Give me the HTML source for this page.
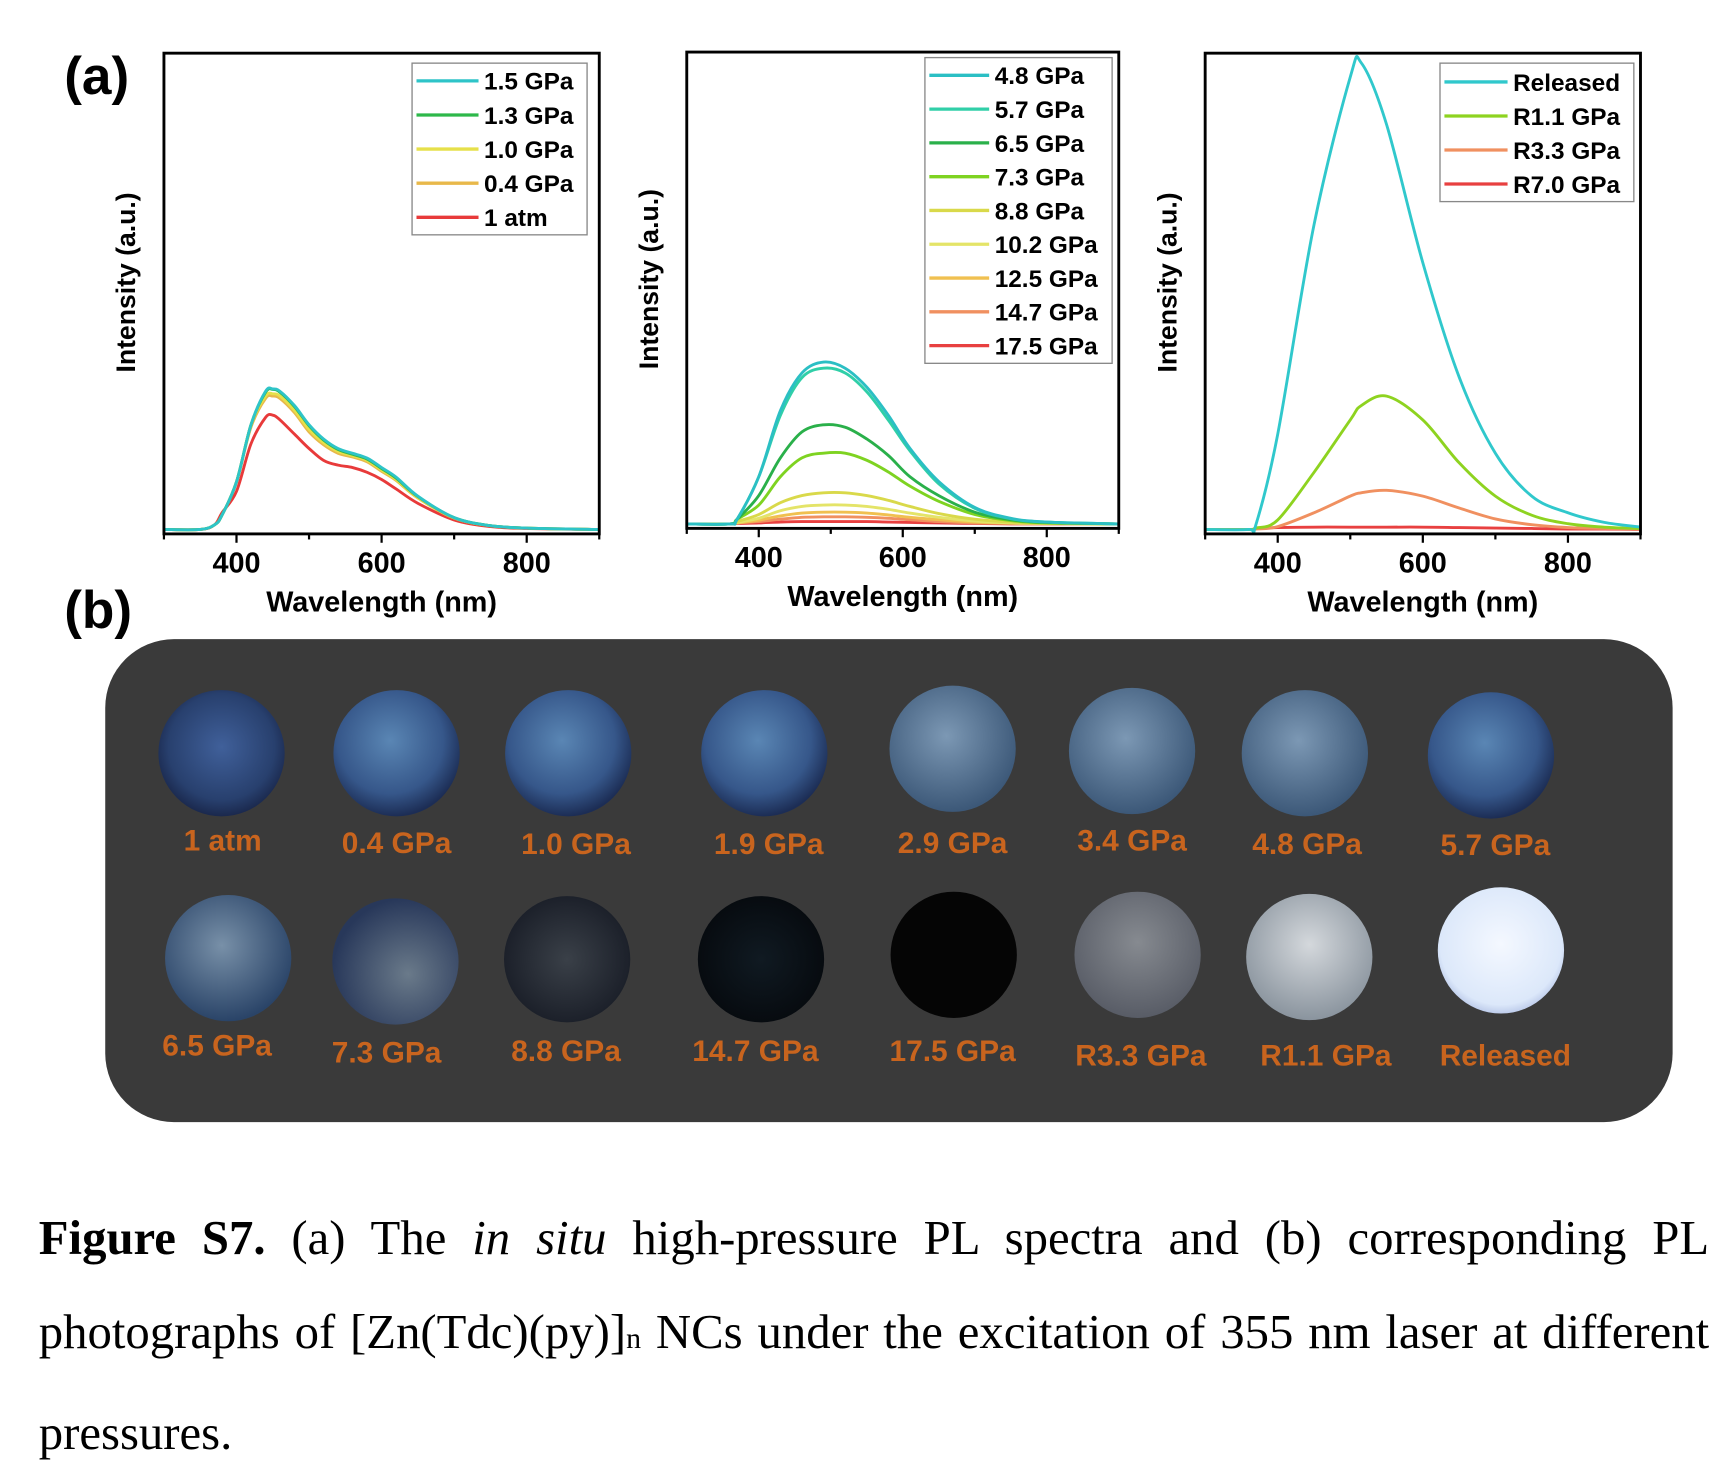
<!DOCTYPE html>
<html><head><meta charset="utf-8"><style>
html,body{margin:0;padding:0;background:#fff;width:1728px;height:1483px;overflow:hidden}
#root{position:absolute;left:0;top:0;width:1560px;height:1339px;transform:scale(1.10769);transform-origin:0 0}
#cap{position:absolute;left:35px;width:1508px;top:1075px;font-family:"Liberation Serif",serif;font-size:44px;line-height:85px;color:#000}
#cap .j{text-align:justify;text-align-last:justify;white-space:nowrap}
</style></head><body>
<div id="root">
<svg id="svg" width="1560" height="1090" viewBox="0 0 1560 1090" style="position:absolute;left:0;top:0" font-family="Liberation Sans, sans-serif">
<defs>
<radialGradient id="gBlue" cx="45%" cy="40%" r="60%"><stop offset="0" stop-color="#5a86b4"/><stop offset="0.7" stop-color="#36578a"/><stop offset="1" stop-color="#1c2d55"/></radialGradient>
<radialGradient id="gBlueD" cx="50%" cy="45%" r="60%"><stop offset="0" stop-color="#40609a"/><stop offset="0.7" stop-color="#28406e"/><stop offset="1" stop-color="#151f40"/></radialGradient>
<radialGradient id="gGray" cx="45%" cy="40%" r="60%"><stop offset="0" stop-color="#7c98b4"/><stop offset="1" stop-color="#3c5878"/></radialGradient>
<radialGradient id="g65" cx="45%" cy="40%" r="60%"><stop offset="0" stop-color="#7890a8"/><stop offset="1" stop-color="#2a4468"/></radialGradient>
<radialGradient id="g73" cx="60%" cy="60%" r="60%"><stop offset="0" stop-color="#6a7a8a"/><stop offset="1" stop-color="#28385a"/></radialGradient>
<radialGradient id="g88" cx="50%" cy="50%" r="60%"><stop offset="0" stop-color="#3a4048"/><stop offset="1" stop-color="#161a24"/></radialGradient>
<radialGradient id="g147" cx="50%" cy="50%" r="60%"><stop offset="0" stop-color="#101a22"/><stop offset="1" stop-color="#05080c"/></radialGradient>
<radialGradient id="gR33" cx="50%" cy="40%" r="60%"><stop offset="0" stop-color="#868a90"/><stop offset="1" stop-color="#585c66"/></radialGradient>
<radialGradient id="gR11" cx="50%" cy="40%" r="60%"><stop offset="0" stop-color="#d4d8dc"/><stop offset="1" stop-color="#8a949e"/></radialGradient>
<radialGradient id="gRel" cx="50%" cy="45%" r="60%"><stop offset="0" stop-color="#f4f8ff"/><stop offset="0.8" stop-color="#dce8fa"/><stop offset="1" stop-color="#a8b8e0"/></radialGradient>
</defs>
<text x="58" y="85" font-size="48" font-weight="bold">(a)</text>
<text x="58" y="567" font-size="48" font-weight="bold">(b)</text>
<rect x="95" y="577" width="1415" height="436" rx="62" fill="#3a3a3a"/>
<g id="charts"></g>
<g id="photos"></g>
</svg>
<div id="cap">
<div class="j"><b>Figure S7.</b> (a) The <i>in situ</i> high-pressure PL spectra and (b) corresponding PL</div>
<div class="j">photographs of [Zn(Tdc)(py)]<span style="font-size:27px">n</span> NCs under the excitation of 355 nm laser at different</div>
<div>pressures.</div>
</div>
</div>
<script>
// ---- Panel 1 data ----
const wl1 = [300,350,370,380,400,420,440,450,460,480,500,520,540,560,580,600,620,650,700,750,800,900];
const names1 = ["1.5 GPa","1.3 GPa","1.0 GPa","0.4 GPa","1 atm"];
const colors1 = ["#2ec4c8","#2db84a","#e6e04a","#e8b84a","#e83a3a"];
const s1_15 = [0,0,0.01,0.03,0.10,0.22,0.29,0.295,0.29,0.26,0.22,0.19,0.17,0.16,0.15,0.13,0.11,0.07,0.025,0.008,0.003,0];
const s1_13 = [0,0,0.01,0.03,0.10,0.22,0.288,0.294,0.288,0.258,0.218,0.188,0.168,0.158,0.148,0.128,0.108,0.069,0.025,0.008,0.003,0];
const s1_10 = [0,0,0.01,0.03,0.10,0.22,0.28,0.285,0.28,0.25,0.21,0.182,0.164,0.155,0.145,0.125,0.105,0.067,0.024,0.008,0.003,0];
const s1_04 = [0,0,0.01,0.03,0.10,0.215,0.275,0.28,0.275,0.245,0.205,0.178,0.16,0.152,0.142,0.122,0.103,0.066,0.024,0.008,0.003,0];
const s1_0 = [0,0,0.01,0.035,0.08,0.18,0.235,0.24,0.23,0.20,0.17,0.145,0.135,0.13,0.12,0.105,0.085,0.055,0.02,0.006,0.002,0];
// ---- Panel 2 data ----
const wl2 = [300,360,370,400,430,460,490,520,550,580,610,650,700,750,800,900];
const names2 = ["4.8 GPa","5.7 GPa","6.5 GPa","7.3 GPa","8.8 GPa","10.2 GPa","12.5 GPa","14.7 GPa","17.5 GPa"];
const colors2 = ["#2bbfc4","#30cfa8","#2ab04a","#7ed321","#d9d94a","#e4e468","#f0c050","#f09060","#e84040"];
const s2_48 = [0,0,0.01,0.10,0.24,0.32,0.343,0.33,0.29,0.23,0.16,0.09,0.035,0.012,0.004,0];
const s2_57 = [0,0,0.01,0.10,0.23,0.31,0.33,0.32,0.28,0.22,0.155,0.085,0.033,0.011,0.004,0];
const s2_65 = [0,0,0.01,0.06,0.14,0.195,0.21,0.205,0.18,0.145,0.10,0.06,0.025,0.009,0.003,0];
const s2_73 = [0,0,0.01,0.04,0.10,0.14,0.15,0.15,0.135,0.11,0.08,0.048,0.02,0.007,0.002,0];
const s2_88 = [0,0,0.005,0.02,0.045,0.06,0.066,0.066,0.06,0.05,0.037,0.022,0.01,0.004,0.001,0];
const s2_102 = [0,0,0.003,0.012,0.028,0.037,0.04,0.04,0.037,0.031,0.023,0.014,0.006,0.002,0.001,0];
const s2_125 = [0,0,0.002,0.008,0.017,0.023,0.025,0.025,0.023,0.019,0.014,0.009,0.004,0.002,0.001,0];
const s2_147 = [0,0,0.002,0.005,0.01,0.014,0.015,0.015,0.014,0.012,0.009,0.005,0.002,0.001,0,0];
const s2_175 = [0,0,0.001,0.002,0.004,0.005,0.005,0.005,0.005,0.004,0.003,0.002,0.001,0,0,0];
// ---- Panel 3 data ----
const wl3 = [300,360,370,400,450,500,515,550,600,650,700,750,800,850,900];
const names3 = ["Released","R1.1 GPa","R3.3 GPa","R7.0 GPa"];
const colors3 = ["#30c8cc","#8ed320","#f09060","#e84040"];
const s3_rel = [0,0,0.01,0.20,0.64,0.95,0.98,0.85,0.56,0.32,0.16,0.07,0.035,0.015,0.005];
const s3_r11 = [0,0,0.003,0.02,0.12,0.23,0.26,0.28,0.23,0.14,0.07,0.03,0.012,0.005,0.002];
const s3_r33 = [0,0,0.001,0.006,0.035,0.07,0.077,0.082,0.07,0.045,0.022,0.01,0.004,0.002,0.001];
const s3_r70 = [0,0,0.002,0.004,0.005,0.005,0.005,0.005,0.005,0.004,0.003,0.002,0.001,0.001,0];
const xTicks = [400,600,800];

const NS="http://www.w3.org/2000/svg";
function mk(tag,attrs,parent){const e=document.createElementNS(NS,tag);for(const k in attrs)e.setAttribute(k,attrs[k]);parent.appendChild(e);return e;}
const charts=document.getElementById('charts');

function smoothPath(pts){
  let d='M'+pts[0][0].toFixed(1)+','+pts[0][1].toFixed(1);
  for(let i=0;i<pts.length-1;i++){
    const p0=pts[Math.max(0,i-1)],p1=pts[i],p2=pts[i+1],p3=pts[Math.min(pts.length-1,i+2)];
    const c1x=p1[0]+(p2[0]-p0[0])/6,c1y=p1[1]+(p2[1]-p0[1])/6;
    const c2x=p2[0]-(p3[0]-p1[0])/6,c2y=p2[1]-(p3[1]-p1[1])/6;
    d+=`C${c1x.toFixed(1)},${c1y.toFixed(1)} ${c2x.toFixed(1)},${c2y.toFixed(1)} ${p2[0].toFixed(1)},${p2[1].toFixed(1)}`;
  }
  return d;
}

function drawPanel(id,L,R,T,B,wl,series,names,colors,leg){
  const g=mk('g',{},charts);
  
  
  const xs=w=>L+(w-300)/600*(R-L);
  const ys=v=>B-4-v*(B-4-T);
  for(let i=series.length-1;i>=0;i--){
    const d=smoothPath(series[i].map((v,j)=>[xs(wl[j]),ys(v)]));
    const p=mk('path',{d:d,fill:'none',stroke:colors[i],'stroke-width':2.6,'stroke-linejoin':'round'},g);
    
    
  }
  const box=mk('rect',{x:L,y:T,width:R-L,height:B-T,fill:'none',stroke:'#000','stroke-width':2.6},g);
  
  
  for(let w=300;w<=900;w+=100){
    const major=xTicks.includes(w);
    mk('line',{x1:xs(w),x2:xs(w),y1:B,y2:B+(major?8:5),stroke:'#000','stroke-width':2},g);
  }
  xTicks.forEach(w=>{
    const t=mk('text',{x:xs(w),y:B+35,'font-size':26,'font-weight':'bold','text-anchor':'middle'},g);
    t.textContent=w;
    
    
  });
  const xt=mk('text',{x:(L+R)/2,y:B+70,'font-size':26,'font-weight':'bold','text-anchor':'middle'},g);
  xt.textContent='Wavelength (nm)';
  
  
  const yt=mk('text',{x:0,y:0,'font-size':24,'font-weight':'bold','text-anchor':'middle',transform:`translate(${L-26},${(T+B)/2-10}) rotate(-90)`},g);
  yt.textContent='Intensity (a.u.)';
  
  
  const lg=mk('g',{},g);
  
  
  mk('rect',{x:leg.x,y:leg.y,width:leg.w,height:leg.h,fill:'#fff',stroke:'#888','stroke-width':1.2},lg);
  names.forEach((n,i)=>{
    const yy=leg.r0+i*leg.step;
    const ln=mk('line',{x1:leg.x+4,x2:leg.tx-5,y1:yy,y2:yy,stroke:colors[i],'stroke-width':3},lg);
    
    
    const t=mk('text',{x:leg.tx,y:yy+8,'font-size':22,'font-weight':'bold'},lg);
    t.textContent=n;
    
    
  });
}
drawPanel('chart-low-pressure',148,541,48,482,wl1,[s1_15,s1_13,s1_10,s1_04,s1_0],names1,colors1,{x:372,y:57,w:158,h:155,r0:73,step:30.8,tx:437});
drawPanel('chart-high-pressure',620,1010,47,477,wl2,[s2_48,s2_57,s2_65,s2_73,s2_88,s2_102,s2_125,s2_147,s2_175],names2,colors2,{x:835,y:52,w:169,h:276,r0:68,step:30.5,tx:898});
drawPanel('chart-released',1088,1481,48,482,wl3,[s3_rel,s3_r11,s3_r33,s3_r70],names3,colors3,{x:1300,y:57,w:175,h:125,r0:74,step:30.7,tx:1366});

const photoLabels=["1 atm","0.4 GPa","1.0 GPa","1.9 GPa","2.9 GPa","3.4 GPa","4.8 GPa","5.7 GPa","6.5 GPa","7.3 GPa","8.8 GPa","14.7 GPa","17.5 GPa","R3.3 GPa","R1.1 GPa","Released"];
const photoFills=["gBlueD","gBlue","gBlue","gBlue","gGray","gGray","gGray","gBlue","g65","g73","g88","g147","#050505","gR33","gR11","gRel"];
const pcx=[200,358,513,690,860,1022,1178,1346,206,357,512,687,861,1027,1182,1355];
const pcy=[680,680,680,680,676,678,680,682,865,868,866,866,862,862,864,858];
const lx=[201,358,520,694,860,1022,1180,1350,196,349,511,682,860,1030,1197,1359];
const ly=[768,770,771,771,770,768,771,772,953,959,958,958,958,962,962,962];
const ph=document.getElementById('photos');
photoLabels.forEach((n,i)=>{
  const f=photoFills[i].startsWith('#')?photoFills[i]:`url(#${photoFills[i]})`;
  const c=mk('circle',{cx:pcx[i],cy:pcy[i],r:57,fill:f},ph);
  
  
  const t=mk('text',{x:lx[i],y:ly[i],'font-size':27,'font-weight':'bold','text-anchor':'middle',fill:'#c8641e'},ph);
  t.textContent=n;
  
  
});
</script>
</body></html>
